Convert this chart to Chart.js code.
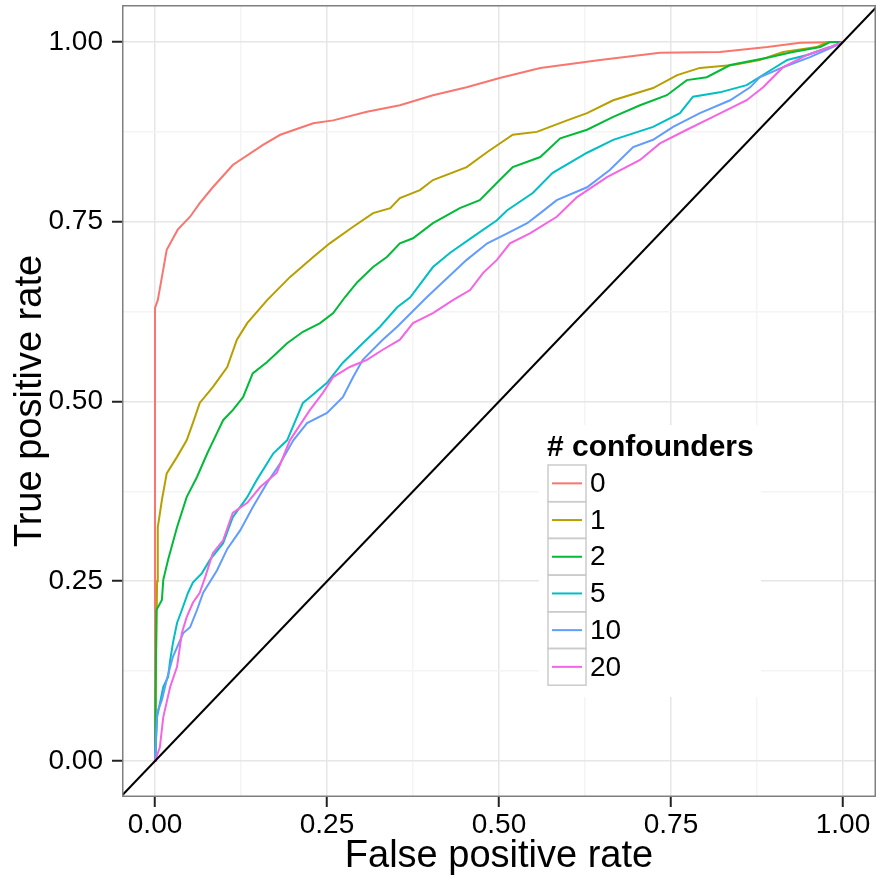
<!DOCTYPE html>
<html>
<head>
<meta charset="utf-8">
<title>ROC curves by number of confounders</title>
<script src="https://cdn.jsdelivr.net/npm/chart.js@4"></script>
<style>
    body { margin: 0; background: #fff; }
    canvas { display: block; }
</style>
</head>
<body>
<canvas id="canvasSingle" width="876" height="877"></canvas>
<script>
// group labels and colours (ggplot hue palette)
const groups = ['0', '1', '2', '5', '10', '20'];
const colors = ['#F8766D', '#B79F00', '#00BA38', '#00BFC4', '#619CFF', '#F564E3'];

const fpr0 = [0, 0, 0.004, 0.010, 0.017, 0.033, 0.051, 0.065, 0.084, 0.113, 0.157, 0.182, 0.230, 0.259, 0.308, 0.356, 0.404, 0.453, 0.501, 0.560, 0.647, 0.734, 0.821, 0.890, 0.938, 1.0];
const tpr0 = [0, 0.63, 0.641, 0.673, 0.711, 0.739, 0.757, 0.776, 0.798, 0.829, 0.857, 0.871, 0.887, 0.891, 0.903, 0.912, 0.926, 0.937, 0.950, 0.964, 0.975, 0.985, 0.986, 0.993, 0.999, 1.0];

const fpr1 = [0, 0.001, 0.003, 0.004, 0.010, 0.017, 0.032, 0.046, 0.055, 0.065, 0.084, 0.105, 0.119, 0.134, 0.163, 0.196, 0.230, 0.254, 0.288, 0.317, 0.342, 0.356, 0.385, 0.404, 0.453, 0.483, 0.520, 0.555, 0.599, 0.628, 0.666, 0.724, 0.759, 0.792, 0.840, 0.879, 0.913, 0.962, 0.977, 1.0];
const tpr1 = [0, 0.10, 0.25, 0.325, 0.363, 0.40, 0.423, 0.446, 0.470, 0.498, 0.520, 0.548, 0.586, 0.609, 0.641, 0.673, 0.701, 0.720, 0.743, 0.762, 0.769, 0.783, 0.794, 0.808, 0.826, 0.847, 0.871, 0.875, 0.891, 0.901, 0.919, 0.936, 0.954, 0.964, 0.968, 0.975, 0.986, 0.993, 1.0, 1.0];

const fpr2 = [0, 0.002, 0.010, 0.012, 0.019, 0.032, 0.046, 0.061, 0.076, 0.090, 0.099, 0.113, 0.128, 0.142, 0.163, 0.192, 0.215, 0.240, 0.259, 0.276, 0.294, 0.317, 0.337, 0.356, 0.375, 0.404, 0.443, 0.472, 0.501, 0.520, 0.560, 0.589, 0.628, 0.666, 0.705, 0.744, 0.773, 0.802, 0.836, 0.890, 0.927, 0.967, 0.981, 1.0];
const tpr2 = [0, 0.21, 0.224, 0.252, 0.28, 0.325, 0.367, 0.395, 0.428, 0.456, 0.474, 0.488, 0.506, 0.539, 0.555, 0.581, 0.597, 0.609, 0.623, 0.645, 0.666, 0.687, 0.701, 0.720, 0.727, 0.748, 0.769, 0.780, 0.808, 0.826, 0.840, 0.866, 0.878, 0.896, 0.912, 0.926, 0.947, 0.951, 0.968, 0.978, 0.986, 0.993, 1.0, 1.0];

const fpr5 = [0, 0.003, 0.012, 0.019, 0.022, 0.026, 0.032, 0.039, 0.048, 0.055, 0.068, 0.080, 0.099, 0.113, 0.134, 0.148, 0.172, 0.192, 0.215, 0.225, 0.250, 0.273, 0.302, 0.327, 0.352, 0.371, 0.404, 0.429, 0.462, 0.497, 0.512, 0.549, 0.578, 0.628, 0.666, 0.724, 0.763, 0.782, 0.821, 0.860, 0.890, 0.919, 0.948, 0.981, 1.0];
const tpr5 = [0, 0.061, 0.103, 0.117, 0.140, 0.164, 0.192, 0.21, 0.234, 0.248, 0.261, 0.280, 0.303, 0.339, 0.367, 0.391, 0.428, 0.446, 0.498, 0.506, 0.526, 0.554, 0.581, 0.604, 0.631, 0.645, 0.687, 0.707, 0.729, 0.752, 0.766, 0.790, 0.818, 0.846, 0.864, 0.882, 0.901, 0.924, 0.930, 0.940, 0.958, 0.975, 0.982, 0.993, 1.0];

const fpr10 = [0, 0.003, 0.010, 0.017, 0.026, 0.041, 0.051, 0.061, 0.070, 0.090, 0.105, 0.124, 0.142, 0.163, 0.182, 0.201, 0.221, 0.250, 0.273, 0.288, 0.302, 0.331, 0.352, 0.395, 0.453, 0.483, 0.512, 0.541, 0.560, 0.584, 0.628, 0.661, 0.695, 0.724, 0.753, 0.792, 0.836, 0.865, 0.879, 0.913, 0.952, 0.985, 1.0];
const tpr10 = [0, 0.067, 0.085, 0.113, 0.145, 0.178, 0.186, 0.21, 0.234, 0.265, 0.295, 0.321, 0.353, 0.387, 0.414, 0.446, 0.470, 0.484, 0.506, 0.534, 0.558, 0.586, 0.604, 0.645, 0.697, 0.720, 0.734, 0.748, 0.762, 0.780, 0.798, 0.822, 0.854, 0.864, 0.882, 0.901, 0.919, 0.937, 0.951, 0.965, 0.979, 0.993, 1.0];

const fpr20 = [0, 0.007, 0.012, 0.022, 0.032, 0.039, 0.046, 0.055, 0.065, 0.073, 0.084, 0.099, 0.113, 0.134, 0.153, 0.177, 0.196, 0.225, 0.244, 0.259, 0.283, 0.308, 0.331, 0.356, 0.375, 0.404, 0.433, 0.458, 0.477, 0.497, 0.516, 0.545, 0.584, 0.613, 0.657, 0.705, 0.734, 0.773, 0.811, 0.860, 0.884, 0.913, 0.948, 0.981, 1.0];
const tpr20 = [0, 0.019, 0.061, 0.103, 0.131, 0.178, 0.2, 0.220, 0.234, 0.256, 0.289, 0.307, 0.345, 0.359, 0.381, 0.401, 0.446, 0.488, 0.512, 0.534, 0.548, 0.558, 0.572, 0.586, 0.609, 0.623, 0.641, 0.655, 0.679, 0.697, 0.720, 0.734, 0.757, 0.784, 0.812, 0.836, 0.859, 0.878, 0.896, 0.919, 0.937, 0.965, 0.982, 0.993, 1.0];

// y = x reference line, ends past the panel and clipped
const diagonal = [-0.1, 1.1];

// major breaks get labels, the ones in between are minor grid lines
const breaks = [0, 0.125, 0.25, 0.375, 0.5, 0.625, 0.75, 0.875, 1];

const fprs = [fpr0, fpr1, fpr2, fpr5, fpr10, fpr20];
const tprs = [tpr0, tpr1, tpr2, tpr5, tpr10, tpr20];

const FONT = '"Liberation Sans", Arial, Helvetica, sans-serif';

function toPoints(xs, ys) {
    return xs.map((x, i) => ({ x: x, y: ys[i] }));
}

function isMajor(v) {
    return Math.abs(v * 4 - Math.round(v * 4)) < 1e-9;
}

let datasets = groups.map((g, i) => ({
    label: g,
    data: toPoints(fprs[i], tprs[i]),
    borderColor: colors[i],
    borderWidth: 2,
    showLine: true,
    pointRadius: 0,
    clip: 0,
    order: groups.length - i
}));

datasets.push({
    label: 'diagonal',
    data: toPoints(diagonal, diagonal),
    borderColor: '#000000',
    borderWidth: 2,
    showLine: true,
    pointRadius: 0,
    clip: 0,
    order: 0
});

function gridOpts() {
    return {
        color: ctx => isMajor(ctx.tick.value) ? '#e6e6e6' : '#f4f4f4',
        lineWidth: 1.5,
        tickColor: ctx => isMajor(ctx.tick.value) ? '#222222' : 'rgba(0,0,0,0)',
        tickLength: 10,
        tickWidth: 2
    };
}

function setBreaks(scale) {
    scale.ticks = breaks.map(v => ({ value: v }));
}

function tickLabel(value) {
    return isMajor(value) ? value.toFixed(2) : '';
}

// panel border around the plot area
const panelBorder = {
    id: 'panelBorder',
    afterDraw(chart) {
        const { ctx, chartArea } = chart;
        ctx.save();
        ctx.strokeStyle = '#7f7f7f';
        ctx.lineWidth = 1.5;
        ctx.strokeRect(chartArea.left + 0.75, chartArea.top + 0.75, chartArea.right - chartArea.left - 1.5, chartArea.bottom - chartArea.top - 1.5);
        ctx.restore();
    }
};

// ggplot style legend sitting inside the panel
const keyLegend = {
    id: 'keyLegend',
    afterDraw(chart) {
        const ctx = chart.ctx;
        const left = 548, top = 465, keyW = 38, rowH = 36.7;
        ctx.save();
        ctx.fillStyle = '#ffffff';
        ctx.fillRect(539, 425, 222, 272);

        ctx.fillStyle = '#000000';
        ctx.textBaseline = 'alphabetic';
        ctx.textAlign = 'left';
        ctx.font = 'bold 30px ' + FONT;
        ctx.fillText('# confounders', left - 1, 456);

        ctx.font = '28px ' + FONT;
        ctx.textBaseline = 'middle';
        groups.forEach((g, i) => {
            let y = top + i * rowH;
            ctx.strokeStyle = '#cbcbcb';
            ctx.lineWidth = 1.5;
            ctx.strokeRect(left, y, keyW, rowH);
            ctx.strokeStyle = colors[i];
            ctx.lineWidth = 2;
            ctx.beginPath();
            ctx.moveTo(left + 4, y + rowH / 2);
            ctx.lineTo(left + keyW - 4, y + rowH / 2);
            ctx.stroke();
            ctx.fillStyle = '#000000';
            ctx.fillText(g, left + 42, y + rowH / 2 + 1);
        });
        ctx.restore();
    }
};

let config = {
    type: 'scatter',
    data: { datasets: datasets },
    options: {
        responsive: false,
        animation: false,
        devicePixelRatio: 1,
        layout: { padding: { top: 5, right: 0, bottom: 0, left: 0 } },
        plugins: {
            legend: { display: false },
            tooltip: { enabled: false }
        },
        scales: {
            x: {
                type: 'linear',
                min: -0.048,
                max: 1.048,
                afterBuildTicks: setBreaks,
                afterFit: function (scale) {
                    scale.height = 80;
                    scale.paddingLeft = 0;
                    scale.paddingRight = 0;
                },
                grid: gridOpts(),
                border: { display: false },
                ticks: {
                    autoSkip: false,
                    maxRotation: 0,
                    padding: 1,
                    color: '#000000',
                    font: { family: FONT, size: 28 },
                    callback: tickLabel
                },
                title: {
                    display: true,
                    text: 'False positive rate',
                    color: '#000000',
                    font: { family: FONT, size: 38 },
                    padding: { top: 0, bottom: -2 }
                }
            },
            y: {
                type: 'linear',
                min: -0.0501,
                max: 1.0515,
                afterBuildTicks: setBreaks,
                afterFit: function (scale) {
                    scale.width = 122;
                    scale.paddingTop = 0;
                    scale.paddingBottom = 0;
                },
                grid: gridOpts(),
                border: { display: false },
                ticks: {
                    autoSkip: false,
                    padding: 9,
                    color: '#000000',
                    font: { family: FONT, size: 28 },
                    callback: tickLabel
                },
                title: {
                    display: true,
                    text: 'True positive rate',
                    color: '#000000',
                    font: { family: FONT, size: 38 },
                    padding: { top: 8, bottom: 0 }
                }
            }
        }
    },
    plugins: [panelBorder, keyLegend]
};

var myChart = new Chart(document.getElementById('canvasSingle'), config);
</script>
</body>
</html>
